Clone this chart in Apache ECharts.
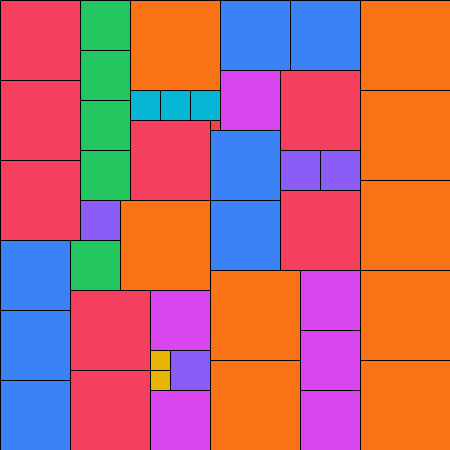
<!DOCTYPE html>
<html><head><meta charset="utf-8">
<script src="https://cdn.jsdelivr.net/npm/echarts@6/dist/echarts.min.js"></script>
<style>html,body{margin:0;padding:0;background:#fff}#c{width:450px;height:450px}</style>
</head><body><div id="c"></div>
<script>
// Square packing: left x, top y, side length
var xs =    [0,0,0, 0,0,0, 80,80,80,80, 80, 70, 130, 130,160,190, 130, 210, 120, 70,70, 150, 150,150, 170, 150, 220,290, 220, 280, 210,210, 280,320, 280, 210,210, 300,300,300, 360,360,360,360,360];
var ys =    [0,80,160, 240,310,380, 0,50,100,150, 200, 240, 0, 90,90,90, 120, 120, 200, 290,370, 290, 350,370, 350, 390, 0,0, 70, 70, 130,200, 150,150, 190, 270,360, 270,330,390, 0,90,180,270,360];
var sizes = [80,80,80, 70,70,70, 50,50,50,50, 40, 50, 90, 30,30,30, 80, 10, 90, 80,80, 60, 20,20, 40, 60, 70,70, 60, 80, 70,70, 40,40, 80, 90,90, 60,60,60, 90,90,90,90,90];
var sideColors = {10:'#EF4444',20:'#EAB308',30:'#06B6D4',40:'#8B5CF6',50:'#22C55E',60:'#D946EF',70:'#3B82F6',80:'#F43F5E',90:'#F97316'};

var data = xs.map(function(x,i){return [x, ys[i], sizes[i]];});
var chart = echarts.init(document.getElementById('c'));
chart.setOption({
  animation:false,
  grid:{left:0,right:0,top:0,bottom:0},
  xAxis:{type:'value',min:0,max:450,show:false},
  yAxis:{type:'value',min:0,max:450,inverse:true,show:false},
  series:[{
    type:'custom',
    data:data,
    renderItem:function(params, api){
      var x=api.value(0), y=api.value(1), s=api.value(2);
      var p0=api.coord([x,y]), p1=api.coord([x+s,y+s]);
      return {type:'rect',
        shape:{x:p0[0]+0.5,y:p0[1]+0.5,width:p1[0]-p0[0],height:p1[1]-p0[1]},
        style:{fill:sideColors[s],stroke:'#000',lineWidth:1}};
    }
  }]
});
</script></body></html>
